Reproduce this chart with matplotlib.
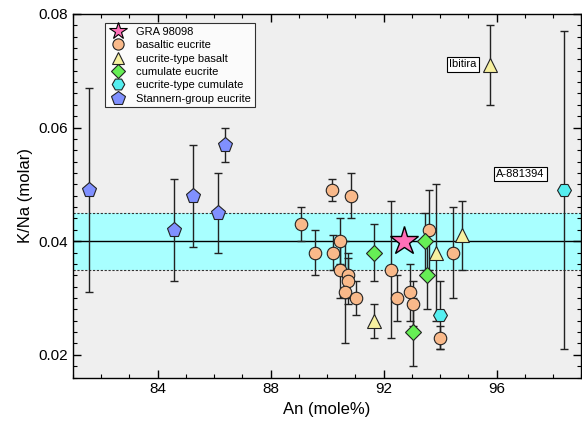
import matplotlib
matplotlib.use('Agg')
import matplotlib.pyplot as plt
from matplotlib.lines import Line2D
from matplotlib.ticker import MultipleLocator, FormatStrFormatter

plt.rcParams['font.family'] = ['Liberation Sans', 'DejaVu Sans']

# GRA 98098
gra_x = [92.73]
gra_y = [0.040]

# basaltic eucrite
bas_x = [89.08, 89.59, 90.18, 90.20, 90.44, 90.47, 90.73, 90.73, 90.65, 91.02,
         90.85, 92.26, 92.47, 92.92, 93.04, 93.59, 94.00, 94.46]
bas_y = [0.043, 0.038, 0.049, 0.038, 0.040, 0.035, 0.034, 0.033, 0.031, 0.030,
         0.048, 0.035, 0.030, 0.031, 0.029, 0.042, 0.023, 0.038]
bas_e = [0.003, 0.004, 0.002, 0.003, 0.004, 0.005, 0.004, 0.004, 0.009, 0.003,
         0.004, 0.012, 0.004, 0.005, 0.004, 0.007, 0.002, 0.008]

# eucrite-type basalt
etb_x = [95.75, 91.65, 93.87, 94.77]
etb_y = [0.071, 0.026, 0.038, 0.041]
etb_e = [0.007, 0.003, 0.012, 0.006]

# cumulate eucrite
cum_x = [91.65, 93.04, 93.47, 93.55]
cum_y = [0.038, 0.024, 0.040, 0.034]
cum_e = [0.005, 0.006, 0.005, 0.006]

# eucrite-type cumulate
etc_x = [98.38, 94.00]
etc_y = [0.049, 0.027]
etc_e = [0.028, 0.006]

# Stannern-group eucrite
stn_x = [81.59, 84.58, 85.26, 86.14, 86.38]
stn_y = [0.049, 0.042, 0.048, 0.045, 0.057]
stn_e = [0.018, 0.009, 0.009, 0.007, 0.003]

band_lo, band_mid, band_hi = 0.035, 0.040, 0.045

fig = plt.figure(figsize=(5.82, 4.33), dpi=100)
ax = fig.add_axes([0.125, 0.128, 0.874, 0.840])
ax.set_facecolor('#efefef')

# GRA 98098 range band
ax.axhspan(band_lo, band_hi, color='#a8ffff', zorder=0.5, lw=0)
ax.axhline(band_lo, color='#333333', lw=0.8, ls=(0, (2, 1.5)), zorder=1)
ax.axhline(band_hi, color='#333333', lw=0.8, ls=(0, (2, 1.5)), zorder=1)
ax.axhline(band_mid, color='black', lw=1.0, zorder=1)

groups = [
    (bas_x, bas_y, bas_e, 'o', '#f9b98a', 9, 'basaltic eucrite'),
    (etb_x, etb_y, etb_e, '^', '#f7f0a0', 10, 'eucrite-type basalt'),
    (cum_x, cum_y, cum_e, 'D', '#66ee55', 8, 'cumulate eucrite'),
    (etc_x, etc_y, etc_e, 'H', '#55eef0', 10, 'eucrite-type cumulate'),
    (stn_x, stn_y, stn_e, 'p', '#8090ff', 11, 'Stannern-group eucrite'),
]

ax.plot(gra_x, gra_y, '*', ms=21, mfc='#ff70b8', mec='black', mew=1.0,
        zorder=5)
handles = [Line2D([], [], marker='*', ms=13, mfc='#ff70b8', mec='black',
                  mew=0.8, ls='none', label='GRA 98098')]
for x, y, e, m, c, s, lab in groups:
    ax.errorbar(x, y, yerr=e, fmt='none', ecolor='#222222', elinewidth=1.0,
                capsize=3, capthick=1.0, zorder=2)
    ax.plot(x, y, m, ms=s, mfc=c, mec='#222222', mew=0.8, ls='none', zorder=3)
    handles.append(Line2D([], [], marker=m, ms=s * 0.9, mfc=c, mec='#222222',
                          mew=0.8, ls='none', label=lab))

leg = ax.legend(handles=handles, loc='upper left', bbox_to_anchor=(0.063, 0.975),
                fontsize=8, frameon=True, fancybox=False, edgecolor='black',
                handletextpad=0.9, borderpad=0.35, labelspacing=0.3,
                handlelength=1.6, borderaxespad=0)
leg.get_frame().set_linewidth(0.8)
leg.get_frame().set_facecolor('white')

ax.text(95.3, 0.0711, 'Ibitira', ha='right', va='center', fontsize=8,
        bbox=dict(boxstyle='square,pad=0.2', fc='white', ec='black', lw=0.8))
ax.text(97.7, 0.0518, 'A-881394', ha='right', va='center', fontsize=8,
        bbox=dict(boxstyle='square,pad=0.2', fc='white', ec='black', lw=0.8))

ax.set_xlim(81, 99)
ax.set_ylim(0.016, 0.08)
ax.xaxis.set_major_locator(MultipleLocator(4))
ax.xaxis.set_minor_locator(MultipleLocator(1))
ax.yaxis.set_major_locator(MultipleLocator(0.02))
ax.yaxis.set_minor_locator(MultipleLocator(0.002))
ax.yaxis.set_major_formatter(FormatStrFormatter('%.2f'))
ax.tick_params(which='both', direction='in', top=True, right=True, labelsize=11)
ax.tick_params(which='major', length=6, width=1)
ax.tick_params(which='minor', length=3, width=0.8)
for sp in ax.spines.values():
    sp.set_linewidth(1.0)

ax.set_xlabel('An (mole%)', fontsize=12)
ax.set_ylabel('K/Na (molar)', fontsize=12)

fig.savefig('out.png', dpi=100)
